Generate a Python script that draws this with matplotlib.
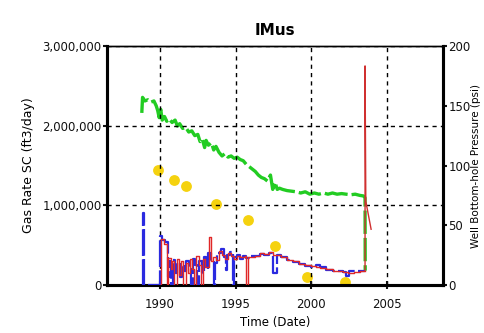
import matplotlib
matplotlib.use("Agg")
import matplotlib.pyplot as plt
from matplotlib.ticker import FuncFormatter

plt.rcParams['font.family'] = ['DejaVu Sans']

title = "IMus"
x_label = "Time (Date)"
left_label = "Gas Rate SC (ft3/day)"
right_label = "Well Bottom-hole Pressure (psi)"

x_ticks = [1990, 1995, 2000, 2005]
left_ticks = [0, 1000000, 2000000, 3000000]
right_ticks = [0, 50, 100, 150, 200]

# Observed gas rate (ft3/day), step series
blue_years = [1988.80, 1988.85, 1988.95, 1990.00, 1990.15, 1990.35, 1990.50, 1990.60, 1990.75,
              1990.85, 1991.00, 1991.15, 1991.30, 1991.45, 1991.60, 1991.75, 1991.90, 1992.05,
              1992.15, 1992.30, 1992.45, 1992.55, 1992.75, 1992.90, 1993.05, 1993.20, 1993.35,
              1993.55, 1993.65, 1993.80, 1994.00, 1994.20, 1994.35, 1994.45, 1994.60, 1994.80,
              1994.90, 1995.10, 1995.30, 1995.50, 1995.70, 1996.00, 1996.30, 1996.60, 1996.90,
              1997.20, 1997.50, 1997.70, 1998.00, 1998.40, 1998.80, 1999.20, 1999.60, 2000.00,
              2000.30, 2000.60, 2001.00, 2001.40, 2001.80, 2002.10, 2002.30, 2002.50, 2002.80,
              2003.20, 2003.55]
blue_rate = [0, 900000, 0, 620000, 560000, 540000, 100000, 300000, 0,
             320000, 150000, 280000, 100000, 250000, 180000, 300000, 200000, 0,
             330000, 250000, 0, 300000, 150000, 350000, 200000, 400000, 300000,
             0, 280000, 400000, 450000, 350000, 190000, 380000, 420000, 0,
             350000, 380000, 330000, 360000, 340000, 360000, 370000, 390000, 380000,
             400000, 150000, 380000, 350000, 320000, 290000, 270000, 240000, 230000,
             250000, 220000, 190000, 180000, 170000, 160000, 110000, 180000, 170000,
             180000, 180000]

# Simulated gas rate (ft3/day), step series
red_years = [1990.00, 1990.10, 1990.25, 1990.45, 1990.55, 1990.70, 1990.80, 1990.95, 1991.10,
             1991.25, 1991.40, 1991.55, 1991.70, 1991.85, 1992.00, 1992.10, 1992.25, 1992.40,
             1992.55, 1992.70, 1992.85, 1993.00, 1993.25, 1993.35, 1993.50, 1993.70, 1993.90,
             1994.10, 1994.30, 1994.50, 1994.70, 1994.90, 1995.10, 1995.30, 1995.60, 1995.70,
             1995.80, 1996.00, 1996.30, 1996.60, 1996.90, 1997.20, 1997.50, 1997.70, 1998.00,
             1998.40, 1998.80, 1999.20, 1999.60, 2000.00, 2000.30, 2000.60, 2001.00, 2001.40,
             2001.80, 2002.10, 2002.40, 2002.80, 2003.20, 2003.55]
red_rate = [0, 580000, 520000, 0, 340000, 200000, 300000, 0, 330000,
            120000, 300000, 0, 280000, 150000, 330000, 200000, 0, 360000,
            250000, 0, 330000, 220000, 600000, 300000, 350000, 320000, 430000,
            380000, 330000, 400000, 370000, 330000, 360000, 350000, 370000, 0,
            350000, 350000, 370000, 400000, 390000, 410000, 380000, 380000, 350000,
            320000, 300000, 270000, 250000, 240000, 230000, 210000, 200000, 180000,
            170000, 160000, 150000, 160000, 170000, 180000]

# Simulated gas rate after the final shut-in
red_tail_years = [2003.55, 2003.55, 2003.60, 2003.75, 2003.85, 2003.95]
red_tail_rate = [180000, 2750000, 1050000, 900000, 800000, 700000]

# Simulated bottom-hole pressure (psi)
green_years = [1988.80, 1988.85, 1989.00, 1989.20, 1989.40, 1989.60, 1989.75, 1989.85, 1989.95,
               1990.05, 1990.15, 1990.30, 1990.45, 1990.60, 1990.80, 1991.00, 1991.15, 1991.30,
               1991.50, 1991.70, 1991.90, 1992.10, 1992.30, 1992.50, 1992.65, 1992.80, 1992.95,
               1993.05, 1993.20, 1993.40, 1993.55, 1993.70, 1993.90, 1994.10, 1994.30, 1994.50,
               1994.70, 1994.90, 1995.10, 1995.30, 1995.50, 1995.70, 1995.90, 1996.10, 1996.30,
               1996.50, 1996.70, 1996.90, 1997.10, 1997.30, 1997.45, 1997.60, 1997.75, 1997.90,
               1998.10, 1998.40, 1998.70, 1999.00, 1999.30, 1999.60, 1999.90, 2000.20, 2000.50,
               2000.80, 2001.10, 2001.40, 2001.70, 2002.00, 2002.30, 2002.60, 2002.90, 2003.20,
               2003.45, 2003.55, 2003.56]
green_psi = [144, 157, 154, 155, 153, 154, 150, 146, 140,
             147, 138, 141, 137, 139, 136, 138, 133, 135,
             131, 132, 128, 129, 125, 126, 120, 122, 115,
             121, 117, 119, 113, 116, 111, 108, 110, 107,
             108, 106, 107, 105, 104, 101, 99, 97, 95,
             92, 90, 89, 87, 92, 80, 86, 80, 81,
             80, 79, 78.5, 78, 77, 78, 76, 77, 76,
             77, 76, 77, 76, 76.5, 76, 75.5, 76, 75,
             74.5, 73, 12]

# Measured bottom-hole pressure (psi)
dot_years = [1989.9, 1990.9, 1991.7, 1993.7, 1995.8, 1997.6, 1999.7, 2002.2]
dot_psi = [96, 88, 82.5, 68, 54, 33, 6.5, 2.5]

fig = plt.figure(figsize=(4.85, 3.33), dpi=100)
ax = fig.add_axes([0.2206, 0.1441, 0.6928, 0.7178])
ax2 = ax.twinx()

ax.set_zorder(ax2.get_zorder() + 1)
ax.patch.set_visible(False)

ax.set_xlim(1986.5, 2008.7)
ax.set_ylim(0, 3000000)
ax2.set_ylim(0, 200)

ax.plot(blue_years, blue_rate, drawstyle='steps-post', color='#2a2ae0', lw=1.6,
        linestyle=(0, (12, 1.5)), zorder=3)
ax.plot(red_years, red_rate, drawstyle='steps-post', color='#e02828', lw=1.0, zorder=4)
ax.plot(red_tail_years, red_tail_rate, color='#d03030', lw=1.0, zorder=4)

ax2.plot(green_years, green_psi, color='#22cc22', lw=2.4, linestyle=(0, (7, 1.2)), zorder=3)
ax2.plot(dot_years, dot_psi, 'o', color='#f5d20f', markersize=7.8, markeredgewidth=0, zorder=2)

ax.set_xticks(x_ticks)
ax.set_yticks(left_ticks)
ax2.set_yticks(right_ticks)
ax.yaxis.set_major_formatter(FuncFormatter(lambda v, p: f"{int(v):,}"))

ax.grid(True, color='black', linestyle=(0, (3, 3)), lw=1.0)

for a in (ax, ax2):
    for s in ('left', 'right', 'bottom'):
        a.spines[s].set_linewidth(2.2)
    a.spines['top'].set_linewidth(1.0)
    a.tick_params(labelsize=8.5, length=3, width=1.5, pad=1, colors='#111111')
ax.tick_params(axis='x', direction='inout', length=6, pad=6)

ax.set_title(title, fontsize=11, fontweight='bold', pad=8)
ax.set_xlabel(x_label, fontsize=8.5, labelpad=4)
ax.set_ylabel(left_label, fontsize=9, labelpad=5)
ax2.set_ylabel(right_label, fontsize=7.5, labelpad=0)

fig.savefig("out.png", dpi=100)
